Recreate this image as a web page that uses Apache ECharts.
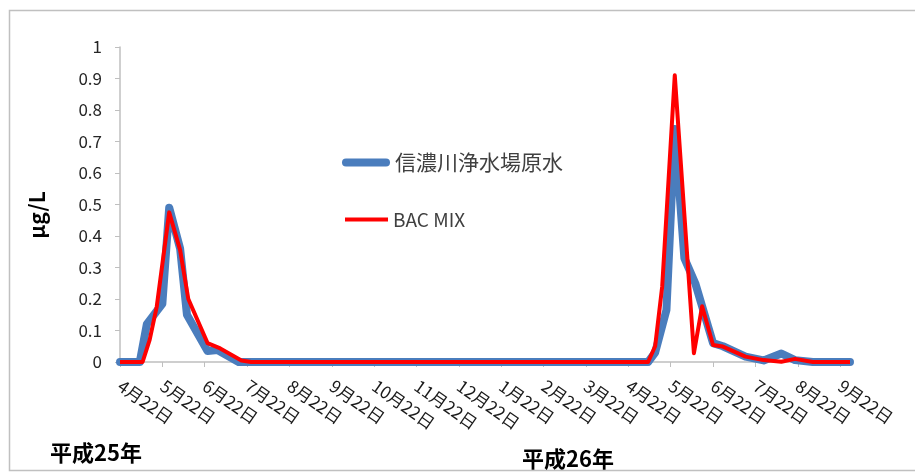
<!DOCTYPE html>
<html>
<head>
<meta charset="utf-8">
<script src="https://cdn.jsdelivr.net/npm/echarts@6/dist/echarts.min.js"></script>
<style>
  html, body { margin: 0; padding: 0; background: #ffffff; }
  #chart { width: 915px; height: 473px; }
</style>
</head>
<body>
<div id="chart"></div>
<script>
// Month tick labels, one per 22nd of the month (H25.4 .. H26.9)
const tickLabels = [
  '4月22日', '5月22日', '6月22日', '7月22日', '8月22日', '9月22日',
  '10月22日', '11月22日', '12月22日', '1月22日', '2月22日', '3月22日',
  '4月22日', '5月22日', '6月22日', '7月22日', '8月22日', '9月22日'
];
const axisStart = '2013/4/22';
const axisEnd = '2014/9/29';

// 信濃川浄水場原水 (µg/L)
const rawDates = [
  '2013/4/22', '2013/5/6', '2013/5/11', '2013/5/22', '2013/5/27', '2013/6/4',
  '2013/6/9', '2013/6/24', '2013/7/1', '2013/7/16',
  '2014/5/6', '2014/5/11', '2014/5/19', '2014/5/25', '2014/6/1', '2014/6/9',
  '2014/6/22', '2014/6/29', '2014/7/15', '2014/7/28', '2014/8/10', '2014/8/20',
  '2014/9/2', '2014/9/29'
];
const rawValues = [
  0, 0, 0.12, 0.185, 0.49, 0.36,
  0.15, 0.035, 0.038, 0,
  0, 0.03, 0.165, 0.74, 0.33, 0.25,
  0.06, 0.05, 0.017, 0.005, 0.027, 0.006,
  0, 0
];

// BAC MIX (µg/L)
const bacDates = [
  '2013/4/22', '2013/5/8', '2013/5/13', '2013/5/18', '2013/5/27', '2013/6/4',
  '2013/6/10', '2013/6/24', '2013/7/3', '2013/7/18', '2013/7/25',
  '2014/5/6', '2014/5/11', '2014/5/16', '2014/5/25', '2014/6/8', '2014/6/14',
  '2014/6/22', '2014/6/29', '2014/7/15', '2014/7/28', '2014/8/10', '2014/8/20',
  '2014/9/2', '2014/9/29'
];
const bacValues = [
  0, 0, 0.07, 0.175, 0.475, 0.355,
  0.2, 0.06, 0.043, 0.005, 0,
  0, 0.05, 0.24, 0.91, 0.028, 0.177,
  0.054, 0.049, 0.017, 0.006, 0.001, 0.01,
  0, 0
];

const yTicks = [0, 0.1, 0.2, 0.3, 0.4, 0.5, 0.6, 0.7, 0.8, 0.9, 1];

// Position on the x axis in "months since 4/22", each month running 22nd to 22nd
function axisPos(s) {
  const [y, m, d] = s.split('/').map(Number);
  let ay = y, am = m;
  if (d < 22) { am -= 1; if (am < 1) { am = 12; ay -= 1; } }
  const start = Date.UTC(ay, am - 1, 22);
  const next = Date.UTC(ay, am, 22);
  const t = Date.UTC(y, m - 1, d);
  const [by, bm] = axisStart.split('/').map(Number);
  return (ay - by) * 12 + (am - bm) + (t - start) / (next - start);
}

const pairs = (dates, vals) => dates.map((d, i) => [axisPos(d), vals[i]]);
const tickPos = tickLabels.map((_, i) => i);

const FONT = '"Noto Sans CJK JP", "Noto Sans", sans-serif';
const chart = echarts.init(document.getElementById('chart'), null, { renderer: 'canvas' });

chart.setOption({
  animation: false,
  backgroundColor: '#ffffff',
  grid: { left: 120, right: 65, top: 47, bottom: 111, containLabel: false },
  legend: [
    {
      data: ['信濃川浄水場原水'],
      left: 342, top: 152,
      padding: 0,
      icon: 'path://M4,0 L44,0 A4,4 0 0 1 44,8 L4,8 A4,4 0 0 1 4,0 Z',
      itemWidth: 48, itemHeight: 8,
      textStyle: { fontFamily: FONT, fontSize: 21, color: '#404040' }
    },
    {
      data: ['BAC MIX'],
      left: 345, top: 210,
      padding: 0,
      icon: 'rect',
      itemWidth: 43, itemHeight: 4,
      textStyle: { fontFamily: FONT, fontSize: 19, color: '#404040' }
    }
  ],
  xAxis: {
    type: 'value',
    min: 0,
    max: axisPos(axisEnd),
    splitLine: { show: false },
    axisLine: { show: true, lineStyle: { color: '#bfbfbf', width: 1.5 } },
    axisTick: { show: true, customValues: tickPos, length: 5, lineStyle: { color: '#bfbfbf' } },
    axisLabel: {
      customValues: tickPos,
      formatter: v => tickLabels[Math.round(v)] || '',
      rotate: -35,
      margin: 22,
      fontFamily: FONT,
      fontSize: 17,
      color: '#1a1a1a'
    }
  },
  yAxis: {
    type: 'value',
    min: 0,
    max: 1,
    interval: 0.1,
    splitLine: { show: false },
    axisLine: { show: true, lineStyle: { color: '#bfbfbf', width: 1.5 } },
    axisTick: { show: true, length: 5, lineStyle: { color: '#bfbfbf' } },
    axisLabel: {
      customValues: yTicks,
      formatter: v => String(Math.round(v * 10) / 10),
      margin: 18,
      fontFamily: FONT,
      fontSize: 17,
      color: '#262626'
    }
  },
  graphic: [
    {
      type: 'rect',
      shape: { x: 9.5, y: 10.5, width: 930, height: 460 },
      style: { fill: 'none', stroke: '#c0c0c0', lineWidth: 1.5 },
      silent: true
    },
    {
      type: 'text',
      x: 37, y: 215,
      rotation: Math.PI / 2,
      style: {
        text: 'μg/L', fontFamily: FONT, fontSize: 21, fontWeight: 'bold',
        fill: '#000000', align: 'center', verticalAlign: 'middle'
      }
    },
    {
      type: 'text',
      x: 50, y: 453,
      style: {
        text: '平成25年', fontFamily: FONT, fontSize: 22, fontWeight: 'bold',
        fill: '#000000', align: 'left', verticalAlign: 'middle'
      }
    },
    {
      type: 'text',
      x: 522, y: 459,
      style: {
        text: '平成26年', fontFamily: FONT, fontSize: 22, fontWeight: 'bold',
        fill: '#000000', align: 'left', verticalAlign: 'middle'
      }
    }
  ],
  series: [
    {
      name: '信濃川浄水場原水',
      type: 'line',
      data: pairs(rawDates, rawValues),
      symbol: 'none',
      color: '#4a7dbd',
      lineStyle: { width: 8, color: '#4a7dbd', cap: 'round', join: 'round' },
      z: 2
    },
    {
      name: 'BAC MIX',
      type: 'line',
      data: pairs(bacDates, bacValues),
      symbol: 'none',
      color: '#ff0000',
      lineStyle: { width: 4, color: '#ff0000', join: 'round' },
      z: 3
    }
  ]
});
</script>
</body>
</html>
